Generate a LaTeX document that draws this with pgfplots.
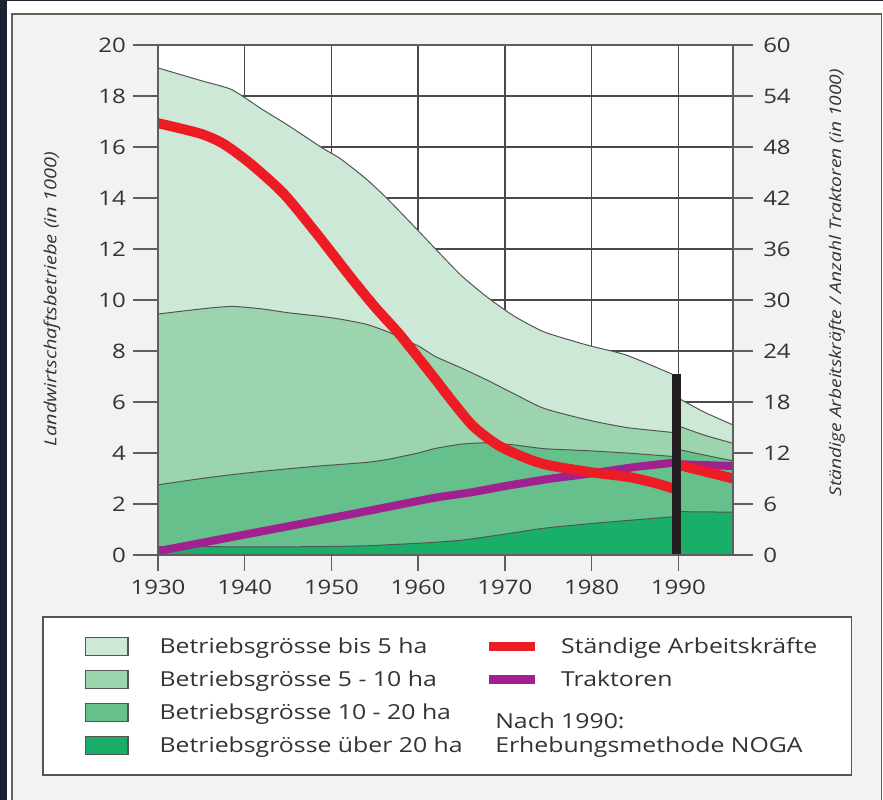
\documentclass[border=0pt]{standalone}
\usepackage{pgfplots}
\pgfplotsset{compat=1.18}
\usepackage{pgfplotstable}
\usepackage{fontspec}
\setmainfont{Open Sans}[FakeStretch=1.2]

\definecolor{navy}{HTML}{1B2130}
\definecolor{panel}{HTML}{F2F2F2}
\definecolor{cA}{HTML}{CDE8D6}
\definecolor{cB}{HTML}{9CD4AE}
\definecolor{cC}{HTML}{66C08C}
\definecolor{cD}{HTML}{1AAF69}
\definecolor{cRed}{HTML}{ED1C24}
\definecolor{cPur}{HTML}{A0218F}
\definecolor{cBar}{HTML}{231F20}
\definecolor{gridc}{HTML}{4A4A4A}
\definecolor{axisc}{HTML}{5E5E5E}
\definecolor{edge}{HTML}{555555}
\definecolor{txt}{HTML}{333333}

% Landwirtschaftsbetriebe (in 1000), cumulative tops of the stacked areas
\pgfplotstableread{
year   tot   b10   b20   b99
1930   19.10 9.45  2.75  0.33
1935   18.60 9.65  3.00  0.33
1938.5 18.25 9.75  3.15  0.32
1942   17.48 9.65  3.28  0.32
1945   16.85 9.50  3.38  0.32
1949   15.95 9.35  3.50  0.33
1951   15.55 9.25  3.55  0.34
1954   14.75 9.05  3.63  0.36
1956.5 13.95 8.75  3.75  0.40
1960   12.72 8.20  4.00  0.46
1962   12.00 7.78  4.18  0.50
1965   10.95 7.33  4.35  0.58
1968   10.10 6.85  4.40  0.72
1971   9.38  6.33  4.32  0.87
1974.5 8.75  5.75  4.17  1.05
1979.5 8.23  5.30  4.09  1.22
1984   7.84  5.00  4.00  1.35
1989.5 7.06  4.80  3.86  1.50
}\early
\pgfplotstableread{
year   tot   b10   b20   b99
1990.0 6.15  5.06  4.14  1.70
1993   5.60  4.70  3.92  1.69
1996.3 5.10  4.38  3.69  1.68
}\late
% Staendige Arbeitskraefte (in 1000)
\pgfplotstableread{
year   val
1930   50.8
1934.8 49.6
1937.5 48.4
1940.6 46.1
1944.5 42.5
1948.3 37.8
1952.2 32.7
1955   29.2
1957.9 25.9
1961.8 20.9
1964   18.0
1966.4 15.1
1969.5 12.75
1974.1 10.8
1979.5 9.8
1984.1 9.2
1987   8.55
1989.5 7.8
}\redA
\pgfplotstableread{
year   val
1990.0 10.6
1996.3 9.0
}\redB
% Traktoren (in 1000)
\pgfplotstableread{
year   val
1930   0.45
1940   2.40
1950   4.35
1956   5.55
1962   6.75
1966   7.35
1970   8.10
1975   8.94
1980   9.60
1985   10.35
1989.5 10.86
}\purA
\pgfplotstableread{
year   val
1990.0 10.68
1996.3 10.47
}\purB

\pgfplotsset{
  base/.style={at={(SW)}, anchor=south west, scale only axis,
    width=431.25pt, height=382.5pt, xmin=1930, xmax=1996.3,
    /pgf/number format/assume math mode=true,
    tick label style={font=\fontsize{15}{18}\selectfont, text=txt}},
  area/.style={draw=edge, line width=0.75pt, smooth, tension=0.35},
}

\begin{document}
\begin{tikzpicture}[x=0.75pt,y=0.75pt]
\useasboundingbox (0,0) rectangle (883,800);
\fill[white] (0,0) rectangle (883,800);
\fill[navy] (0,0) rectangle (7,800);
\fill[navy] (0,799) rectangle (883,800);
\filldraw[fill=panel, draw=gray!75!black, line width=1.2pt] (12,-10) rectangle (881.5,786);
\coordinate (SW) at (158,245);
\filldraw[fill=white, draw=edge, line width=1.4pt] (43,25) rectangle (851.5,182.7);

% data layer (left axis units) with grid
\begin{axis}[base, ymin=0, ymax=20,
  axis background/.style={fill=white},
  axis line style={draw=none},
  xtick={1940,1950,...,1990}, ytick={2,4,...,18},
  xticklabels={}, yticklabels={},
  grid=major, major grid style={draw=gridc, line width=1.1pt},
  tick style={draw=none}]
\addplot[area, fill=cA] table[x=year,y=tot]{\early} \closedcycle;
\addplot[area, fill=cB] table[x=year,y=b10]{\early} \closedcycle;
\addplot[area, fill=cC] table[x=year,y=b20]{\early} \closedcycle;
\addplot[area, fill=cD] table[x=year,y=b99]{\early} \closedcycle;
\addplot[area, fill=cA] table[x=year,y=tot]{\late} \closedcycle;
\addplot[area, fill=cB] table[x=year,y=b10]{\late} \closedcycle;
\addplot[area, fill=cC] table[x=year,y=b20]{\late} \closedcycle;
\addplot[area, fill=cD] table[x=year,y=b99]{\late} \closedcycle;
\end{axis}

% right axis: workers and tractors
\begin{axis}[base, ymin=0, ymax=60,
  axis x line=none, axis y line*=right,
  axis line style={draw=none},
  ytick={0,6,...,60}, tick align=outside, major tick length=15pt,
  tick style={draw=axisc, line width=1.1pt},
  yticklabel style={anchor=west, inner sep=0pt, xshift=7.5pt},
  ylabel={Ständige Arbeitskräfte / Anzahl Traktoren (in 1000)},
  every axis y label/.style={at={(axis description cs:1.1809,0.534)}, rotate=90, anchor=center,
    font=\fontsize{12}{14}\selectfont\itshape, text=txt}]
\addplot[cPur, line width=6pt, smooth, tension=0.4] table[x=year,y=val]{\purA};
\addplot[cPur, line width=6pt] table[x=year,y=val]{\purB};
\addplot[cRed, line width=7.5pt, smooth, tension=0.45] table[x=year,y=val]{\redA};
\addplot[cRed, line width=7.5pt] table[x=year,y=val]{\redB};
\addplot[cBar, line width=6.75pt] coordinates {(1989.75,0) (1989.75,21.24)};
\end{axis}

% frame and left ticks
\begin{axis}[base, ymin=0, ymax=20,
  axis line style={draw=axisc, line width=1.5pt},
  xtick=\empty, ytick={0,2,...,20}, ytick pos=left,
  tick align=outside, major tick length=18.75pt,
  tick style={draw=axisc, line width=1.1pt},
  yticklabel style={anchor=east, inner sep=0pt, xshift=-5.25pt},
  ylabel={Landwirtschaftsbetriebe (in 1000)},
  every axis y label/.style={at={(axis description cs:-0.1843,0.502)}, rotate=90, anchor=center,
    font=\fontsize{12.5}{14}\selectfont\itshape, text=txt}]
\end{axis}

% x ticks and legend
\begin{axis}[base, ymin=0, ymax=20,
  axis line style={draw=none},
  ytick=\empty, xtick={1930,1940,...,1990},
  xticklabels={1930,1940,1950,1960,1970,1980,1990},
  xtick pos=bottom, tick align=outside, major tick length=12pt,
  tick style={draw=axisc, line width=1.1pt},
  xticklabel style={anchor=north, inner sep=0pt, yshift=-6.2pt},
  legend columns=2, legend cell align=left,
  legend style={at={(axis description cs:-0.12696,-0.14804)}, anchor=north west, draw=none, fill=none,
    inner sep=0pt, outer sep=0pt, row sep=0.8pt,
    font=\fontsize{15.5}{18}\selectfont,
    nodes={inner sep=0pt, text=txt},
    /tikz/every even column/.append style={column sep=17pt}}]
\addlegendimage{legend image code/.code={\path[draw=none,fill=none] (0pt,-12pt) rectangle (55.5pt,12pt); \draw[fill=cA,draw=edge,line width=1pt] (0pt,-6.65pt) rectangle (31.7pt,6.65pt);}}
\addlegendentry{Betriebsgrösse bis 5 ha}
\addlegendimage{legend image code/.code={\path[draw=none,fill=none] (0pt,-12pt) rectangle (53.8pt,12pt); \draw[cRed,line width=6.2pt] (0pt,0pt) -- (34.3pt,0pt);}}
\addlegendentry{Ständige Arbeitskräfte}
\addlegendimage{legend image code/.code={\path[draw=none,fill=none] (0pt,-12pt) rectangle (55.5pt,12pt); \draw[fill=cB,draw=edge,line width=1pt] (0pt,-6.65pt) rectangle (31.7pt,6.65pt);}}
\addlegendentry{Betriebsgrösse 5 - 10 ha}
\addlegendimage{legend image code/.code={\path[draw=none,fill=none] (0pt,-12pt) rectangle (53.8pt,12pt); \draw[cPur,line width=6.2pt] (0pt,0pt) -- (34.3pt,0pt);}}
\addlegendentry{Traktoren}
\addlegendimage{legend image code/.code={\path[draw=none,fill=none] (0pt,-12pt) rectangle (55.5pt,12pt); \draw[fill=cC,draw=edge,line width=1pt] (0pt,-6.65pt) rectangle (31.7pt,6.65pt);}}
\addlegendentry{Betriebsgrösse 10 - 20 ha}
\addlegendimage{empty legend}
\addlegendentry{}
\addlegendimage{legend image code/.code={\path[draw=none,fill=none] (0pt,-12pt) rectangle (55.5pt,12pt); \draw[fill=cD,draw=edge,line width=1pt] (0pt,-6.65pt) rectangle (31.7pt,6.65pt);}}
\addlegendentry{Betriebsgrösse über 20 ha}
\addlegendimage{empty legend}
\addlegendentry{}
\end{axis}

\node[anchor=base west, inner sep=0pt, text=txt, font=\fontsize{15.5}{18}\selectfont] at (495,71) {Nach 1990:};
\node[anchor=base west, inner sep=0pt, text=txt, font=\fontsize{15.5}{18}\selectfont] at (495,47.3) {Erhebungsmethode NOGA};
\end{tikzpicture}
\end{document}
